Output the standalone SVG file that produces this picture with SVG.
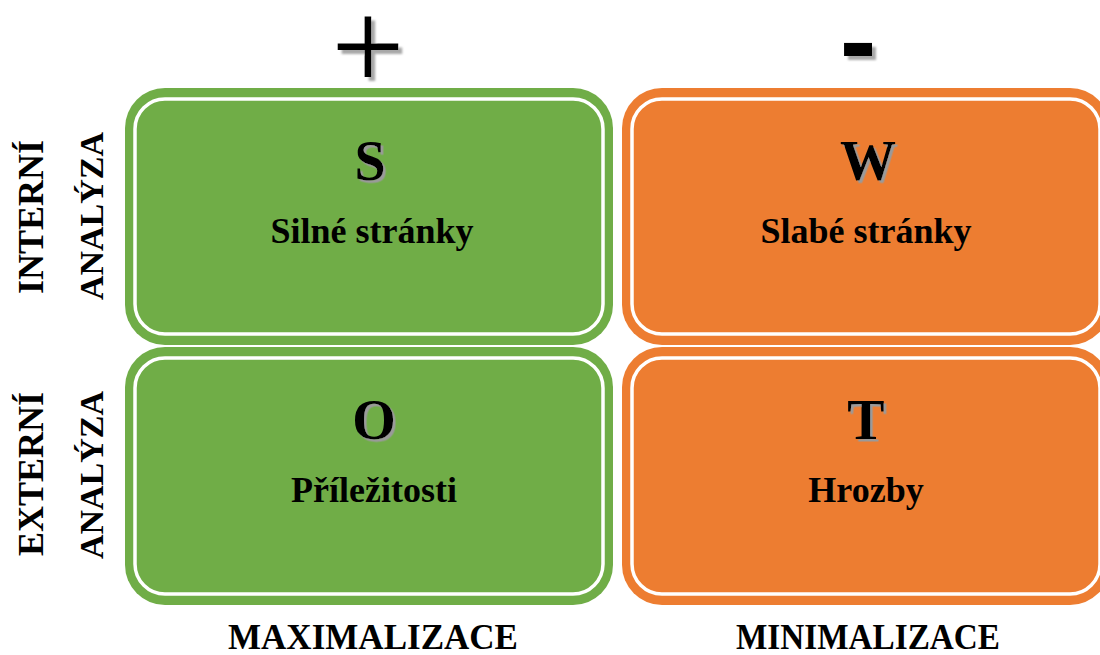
<svg xmlns="http://www.w3.org/2000/svg" width="1100" height="655" viewBox="0 0 1100 655">
<defs>
<style>
.g{fill:#70AD47}
.o{fill:#ED7D31}
.in{fill:none;stroke:#FFFFFF;stroke-width:3.5}
.t{font-family:"Liberation Serif","Times New Roman",serif;font-weight:bold;fill:#000;text-anchor:middle}
.big{font-size:56px}
.mid{font-size:36px}
.side1{font-size:36px}
.side2{font-size:34px}
</style>
<filter id="sh" x="-20%" y="-20%" width="150%" height="150%">
<feDropShadow dx="2.5" dy="2.5" stdDeviation="0.6" flood-color="#9a9a9a" flood-opacity="1"/>
</filter>
<filter id="sh2" x="-20%" y="-20%" width="150%" height="150%">
<feDropShadow dx="4" dy="4" stdDeviation="0.8" flood-color="#a8a8a8" flood-opacity="1"/>
</filter>
</defs>
<rect width="1100" height="655" fill="#FFFFFF"/>

<g id="plus">
<text x="368" y="90" font-family="'Liberation Serif',serif" font-size="130" text-anchor="middle" fill="#000" filter="url(#sh2)">+</text>
</g>
<g id="minus">
<text x="858" y="78" font-family="'Liberation Sans',Arial,sans-serif" font-weight="bold" font-size="110" text-anchor="middle" fill="#000" filter="url(#sh2)">-</text>
</g>

<g id="label-interni">
<text class="t side1" transform="translate(43,217) rotate(-90)">INTERNÍ</text>
<text class="t side2" transform="translate(103,216) rotate(-90)">ANALÝZA</text>
</g>
<g id="label-externi">
<text class="t side1" transform="translate(43,474) rotate(-90)">EXTERNÍ</text>
<text class="t side2" transform="translate(103,475) rotate(-90)">ANALÝZA</text>
</g>

<g id="node-S">
<rect class="g" x="125" y="88" width="488" height="257" rx="40"/>
<rect class="in" x="135" y="99" width="468" height="235" rx="30"/>
<text class="t big" x="370" y="180" filter="url(#sh)">S</text>
<text class="t mid" x="372" y="243">Silné stránky</text>
</g>
<g id="node-W">
<rect class="o" x="622" y="88" width="488" height="257" rx="40"/>
<rect class="in" x="632" y="99" width="468" height="235" rx="30"/>
<text class="t big" x="868" y="180" filter="url(#sh)">W</text>
<text class="t mid" x="866" y="243">Slabé stránky</text>
</g>
<g id="node-O">
<rect class="g" x="125" y="347" width="488" height="258" rx="40"/>
<rect class="in" x="135" y="358" width="468" height="236" rx="30"/>
<text class="t big" x="374" y="439" filter="url(#sh)">O</text>
<text class="t mid" x="374" y="502">Příležitosti</text>
</g>
<g id="node-T">
<rect class="o" x="622" y="347" width="488" height="258" rx="40"/>
<rect class="in" x="632" y="358" width="468" height="236" rx="30"/>
<text class="t big" x="866" y="439" filter="url(#sh)">T</text>
<text class="t mid" x="866" y="502">Hrozby</text>
</g>

<g id="connectors"></g>

<g id="footer">
<text class="t" x="373" y="649" font-size="35" textLength="290" lengthAdjust="spacingAndGlyphs">MAXIMALIZACE</text>
<text class="t" x="868" y="649" font-size="35" textLength="264" lengthAdjust="spacingAndGlyphs">MINIMALIZACE</text>
</g>
</svg>
